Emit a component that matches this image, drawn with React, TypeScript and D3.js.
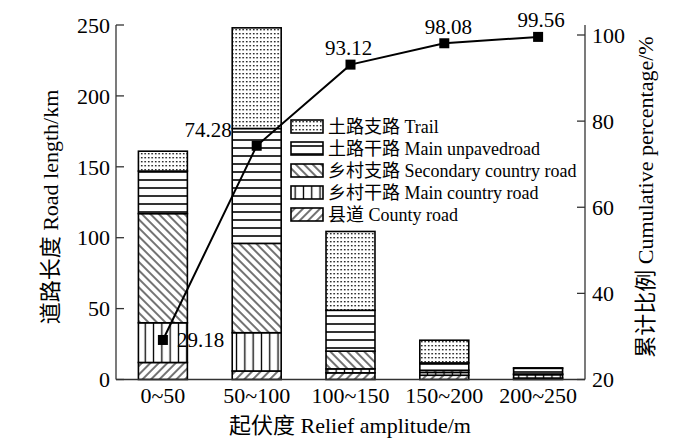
import React from "react";
import * as d3 from "d3";

const categories = ["0~50", "50~100", "100~150", "150~200", "200~250"];
const seriesKeys = ["county", "mainCountry", "secondary", "mainUnpaved", "trail"];
const seriesLabels = [
  "县道 County road",
  "乡村干路 Main country road",
  "乡村支路 Secondary country road",
  "土路干路 Main unpavedroad",
  "土路支路 Trail",
];
const county = [12, 6, 4.7, 3, 1];
const mainCountry = [28, 27, 2.8, 2, 2.4];
const secondary = [77, 63, 12.5, 1.5, 0.5];
const mainUnpaved = [30, 81, 28.8, 5.2, 4];
const trail = [14, 71, 55.6, 16, 0.3];
const cumulative = [29.18, 74.28, 93.12, 98.08, 99.56];
const leftTicks = [0, 50, 100, 150, 200, 250];
const rightTicks = [20, 40, 60, 80, 100];

const W = 700, H = 439;
const M = { left: 116, right: 585, top: 25, bottom: 379.5 };
const FONT = "'Liberation Serif', 'Noto Sans CJK SC', serif";
const labelOffsets = [
  { dx: 14, dy: 7, anchor: "start" },
  { dx: -25, dy: -9, anchor: "end" },
  { dx: -2, dy: -10, anchor: "middle" },
  { dx: 4, dy: -9, anchor: "middle" },
  { dx: 3, dy: -10, anchor: "middle" },
];

export default function App() {
  const x = d3.scaleBand().domain(categories).range([M.left, M.right]).paddingInner(0.478).paddingOuter(0.239);
  const y = d3.scaleLinear().domain([0, 250]).range([M.bottom, M.top]);
  const y2 = d3.scaleLinear().domain([20, 100]).range([M.bottom, 35]);
  const table = categories.map((c, i) => ({
    cat: c,
    county: county[i],
    mainCountry: mainCountry[i],
    secondary: secondary[i],
    mainUnpaved: mainUnpaved[i],
    trail: trail[i],
  }));
  const stacked = d3.stack<any>().keys(seriesKeys)(table);
  const line = d3
    .line<number>()
    .x((_, i) => (x(categories[i]) as number) + x.bandwidth() / 2)
    .y((d) => y2(d));
  const fills: Record<string, string> = {
    county: "url(#pCounty)",
    mainCountry: "url(#pMainCountry)",
    secondary: "url(#pSecondary)",
    mainUnpaved: "url(#pMainUnpaved)",
    trail: "url(#pTrail)",
  };
  const legendOrder = [4, 3, 2, 1, 0];
  return (
    <svg width={W} height={H} style={{ position: "absolute", left: 0, top: 0, background: "#fff" }} fontFamily={FONT}>
      <defs>
        <pattern id="pTrail" width="3.5" height="4" patternUnits="userSpaceOnUse">
          <rect width="3.5" height="4" fill="#fff" />
          <rect x="1" y="1" width="1.4" height="1.4" fill="#000" />
        </pattern>
        <pattern id="pMainUnpaved" width="8" height="8" patternUnits="userSpaceOnUse">
          <rect width="8" height="8" fill="#fff" />
          <line x1="0" y1="4" x2="8" y2="4" stroke="#000" strokeWidth="1.6" />
        </pattern>
        <pattern id="pSecondary" width="6" height="6" patternUnits="userSpaceOnUse" patternTransform="rotate(-45)">
          <rect width="6" height="6" fill="#fff" />
          <line x1="3" y1="0" x2="3" y2="6" stroke="#000" strokeWidth="1.1" />
        </pattern>
        <pattern id="pMainCountry" width="8.3" height="9" patternUnits="userSpaceOnUse">
          <rect width="8.3" height="9" fill="#fff" />
          <line x1="4.15" y1="0" x2="4.15" y2="9" stroke="#000" strokeWidth="1.3" />
        </pattern>
        <pattern id="pCounty" width="6" height="6" patternUnits="userSpaceOnUse" patternTransform="rotate(45)">
          <rect width="6" height="6" fill="#fff" />
          <line x1="3" y1="0" x2="3" y2="6" stroke="#000" strokeWidth="1.1" />
        </pattern>
      </defs>

      {stacked.map((s) => (
        <g key={s.key}>
          {s.map((d, i) => (
            <rect
              key={i}
              x={x(categories[i])}
              y={y(d[1])}
              width={x.bandwidth()}
              height={Math.max(0, y(d[0]) - y(d[1]))}
              fill={fills[s.key]}
              stroke="#000"
              strokeWidth={1.6}
            />
          ))}
        </g>
      ))}

      {/* axes */}
      <g stroke="#333" strokeWidth={1.3} fill="none">
        <line x1={M.left} y1={M.top} x2={M.left} y2={M.bottom} />
        <line x1={M.right} y1={M.top} x2={M.right} y2={M.bottom} />
        <line x1={M.left} y1={M.bottom} x2={M.right} y2={M.bottom} />
        {leftTicks.map((t) => (
          <line key={"l" + t} x1={M.left} x2={M.left + 8} y1={y(t)} y2={y(t)} />
        ))}
        {rightTicks.map((t) => (
          <line key={"r" + t} x1={M.right - 8} x2={M.right} y1={y2(t)} y2={y2(t)} />
        ))}
      </g>
      {leftTicks.map((t) => (
        <text key={"lt" + t} x={M.left - 6} y={y(t)} dy="0.35em" textAnchor="end" fontSize={22}>
          {t}
        </text>
      ))}
      {rightTicks.map((t) => (
        <text key={"rt" + t} x={M.right + 7} y={y2(t)} dy="0.35em" textAnchor="start" fontSize={22}>
          {t}
        </text>
      ))}
      {categories.map((c) => (
        <text key={c} x={(x(c) as number) + x.bandwidth() / 2} y={403} textAnchor="middle" fontSize={22}>
          {c}
        </text>
      ))}
      <text x={350} y={433} textAnchor="middle" fontSize={22}>
        起伏度 Relief amplitude/m
      </text>
      <text transform={`translate(58,207) rotate(-90)`} textAnchor="middle" fontSize={22}>
        道路长度 Road length/km
      </text>
      <text transform={`translate(653,197) rotate(-90)`} textAnchor="middle" fontSize={22}>
        累计比例 Cumulative percentage/%
      </text>

      {/* cumulative line */}
      <path d={line(cumulative) as string} fill="none" stroke="#000" strokeWidth={2} />
      {cumulative.map((v, i) => {
        const cx = (x(categories[i]) as number) + x.bandwidth() / 2;
        const cy = y2(v);
        const o = labelOffsets[i];
        return (
          <g key={i}>
            <rect x={cx - 5} y={cy - 5} width={10} height={10} fill="#000" />
            <text x={cx + o.dx} y={cy + o.dy} textAnchor={o.anchor as any} fontSize={21}>
              {v.toFixed(2)}
            </text>
          </g>
        );
      })}

      {/* legend */}
      {legendOrder.map((k, r) => (
        <g key={k} transform={`translate(291,${120 + r * 22})`}>
          <rect x={0} y={0} width={32} height={13} fill={fills[seriesKeys[k]]} stroke="#000" strokeWidth={1.6} />
          <text x={37} y={13} fontSize={18}>
            {seriesLabels[k]}
          </text>
        </g>
      ))}
    </svg>
  );
}
